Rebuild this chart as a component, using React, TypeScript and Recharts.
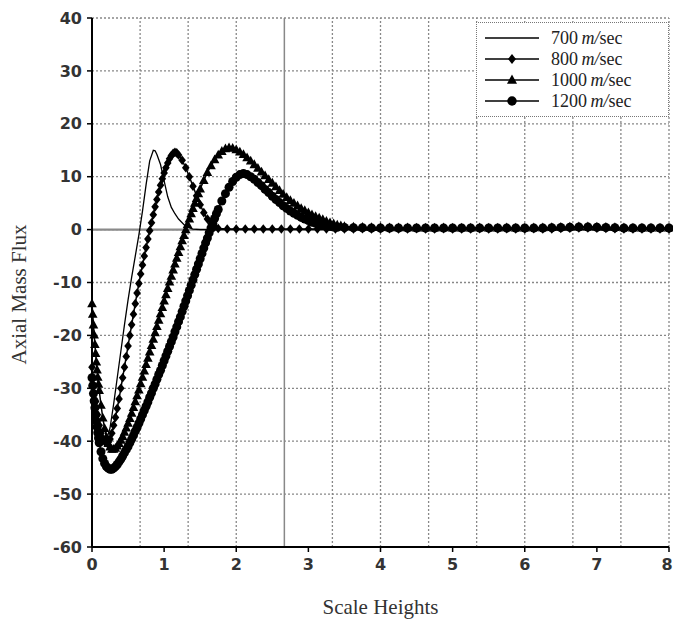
import React from 'react';
import { LineChart, Line, XAxis, YAxis, CartesianGrid, ReferenceLine, Legend } from 'recharts';

const xTicks = [0, 1, 2, 3, 4, 5, 6, 7, 8];
const yTicks = [-60, -50, -40, -30, -20, -10, 0, 10, 20, 30, 40];
const gridX = [0.667, 1.333, 2, 3.333, 4, 4.667, 5.333, 6, 6.667, 7.333, 8];
const solidGridX = 2.667;
const speedLabels = ['700', '800', '1000', '1200'];

const s700: [number, number][] = [
  [0, -27], [0.05, -32], [0.1, -36.5], [0.15, -39.3], [0.2, -39.8], [0.25, -37.5], [0.3, -33], [0.35, -28],
  [0.4, -23], [0.45, -18], [0.5, -13.3], [0.55, -9], [0.6, -5], [0.65, -1], [0.7, 3.5], [0.75, 8.5], [0.8, 13],
  [0.85, 15], [0.875, 14.9], [0.9, 14.2], [0.95, 12.3], [1.0, 9.2], [1.05, 6.2], [1.1, 4.2], [1.15, 3], [1.2, 2],
  [1.3, 0.6], [1.4, 0.1], [1.5, 0], [8, 0],
];

const s800: [number, number][] = [
  [0, -26], [0.025, -29.5], [0.05, -32.5], [0.075, -35], [0.1, -37], [0.125, -38.5], [0.15, -39.5], [0.175, -40.1],
  [0.2, -40.3], [0.225, -40.2], [0.25, -39.6], [0.275, -38.5], [0.3, -37], [0.325, -35.5], [0.35, -33.8], [0.375, -32],
  [0.4, -30], [0.425, -28], [0.45, -26], [0.475, -24], [0.5, -22], [0.525, -20], [0.55, -18], [0.575, -16],
  [0.6, -14], [0.625, -12], [0.65, -10.2], [0.675, -8.4], [0.7, -6.7], [0.725, -5], [0.75, -3.4], [0.775, -1.8],
  [0.8, -0.2], [0.825, 1.3], [0.85, 2.8], [0.875, 4.3], [0.9, 5.7], [0.925, 7.1], [0.95, 8.4], [0.975, 9.6],
  [1.0, 10.7], [1.025, 11.7], [1.05, 12.6], [1.075, 13.4], [1.1, 14], [1.125, 14.4], [1.15, 14.6], [1.175, 14.5],
  [1.2, 14.1], [1.25, 13.1], [1.3, 11.7], [1.35, 10], [1.4, 8.2], [1.45, 6.4], [1.5, 4.7], [1.55, 3.2],
  [1.6, 2], [1.65, 1.1], [1.7, 0.5], [1.75, 0.2],
  [1.875, 0.1], [2, 0.1], [2.125, 0.1], [2.25, 0.1], [2.375, 0.1], [2.5, 0.1], [2.625, 0.1], [2.75, 0.1],
  [2.875, 0.1], [3, 0.1], [3.125, 0.1], [3.25, 0.1], [3.375, 0.1], [3.5, 0.1],
];

const s1000: [number, number][] = [
  [0, -14], [0.01, -16], [0.02, -18], [0.03, -19.9], [0.04, -21.7], [0.05, -23.4], [0.06, -25], [0.07, -26.5],
  [0.08, -27.9], [0.09, -29.2], [0.1, -30.4], [0.125, -33.2], [0.15, -35.6], [0.175, -37.6], [0.2, -39.2],
  [0.225, -40.4], [0.25, -41.1], [0.275, -41.5], [0.3, -41.5], [0.325, -41.3], [0.35, -40.9], [0.375, -40.4],
  [0.4, -39.8], [0.425, -39.1], [0.45, -38.3], [0.475, -37.5], [0.5, -36.6], [0.525, -35.7], [0.55, -34.7],
  [0.575, -33.6], [0.6, -32.5], [0.625, -31.4], [0.65, -30.3], [0.675, -29.1], [0.7, -27.9], [0.725, -26.7],
  [0.75, -25.5], [0.775, -24.3], [0.8, -23.1], [0.825, -21.9], [0.85, -20.7], [0.875, -19.5], [0.9, -18.3],
  [0.925, -17.1], [0.95, -15.9], [0.975, -14.7], [1.0, -13.5], [1.025, -12.3], [1.05, -11.1], [1.075, -9.9],
  [1.1, -8.8], [1.125, -7.6], [1.15, -6.5], [1.175, -5.4], [1.2, -4.3], [1.225, -3.2], [1.25, -2.1], [1.275, -1.1],
  [1.3, 0], [1.325, 1], [1.35, 2], [1.375, 3], [1.4, 4], [1.425, 5], [1.45, 5.9], [1.475, 6.8], [1.5, 7.7],
  [1.55, 9.3], [1.6, 10.8], [1.65, 12.1], [1.7, 13.2], [1.75, 14.1], [1.8, 14.8], [1.85, 15.3], [1.9, 15.5],
  [1.95, 15.4], [2.0, 15.1], [2.05, 14.7], [2.1, 14.2], [2.15, 13.6], [2.2, 13], [2.25, 12.3], [2.3, 11.6],
  [2.35, 10.9], [2.4, 10.2], [2.45, 9.5], [2.5, 8.8], [2.55, 8.1], [2.6, 7.4], [2.65, 6.7], [2.7, 6.1],
  [2.75, 5.5], [2.8, 5], [2.85, 4.5], [2.9, 4], [2.95, 3.6], [3.0, 3.2], [3.05, 2.8], [3.1, 2.5], [3.15, 2.2],
  [3.2, 1.9], [3.25, 1.6], [3.3, 1.3], [3.35, 1.1], [3.4, 0.9], [3.45, 0.75], [3.5, 0.6],
];

const s1200: [number, number][] = [
  [0, -28], [0.01, -29.5], [0.02, -31], [0.03, -32.4], [0.04, -33.7], [0.05, -35], [0.06, -36.2], [0.07, -37.3],
  [0.08, -38.4], [0.09, -39.4], [0.1, -40.3], [0.125, -42], [0.15, -43.3], [0.175, -44.2], [0.2, -44.8],
  [0.225, -45.1], [0.25, -45.3], [0.275, -45.3], [0.3, -45.1], [0.325, -44.8], [0.35, -44.4], [0.375, -43.9],
  [0.4, -43.4], [0.425, -42.8], [0.45, -42.2], [0.475, -41.6], [0.5, -41], [0.525, -40.3], [0.55, -39.6],
  [0.575, -38.9], [0.6, -38.1], [0.625, -37.4], [0.65, -36.6], [0.675, -35.8], [0.7, -35], [0.725, -34.2],
  [0.75, -33.4], [0.775, -32.6], [0.8, -31.7], [0.825, -30.9], [0.85, -30], [0.875, -29.2], [0.9, -28.3],
  [0.925, -27.4], [0.95, -26.6], [0.975, -25.7], [1.0, -24.8], [1.025, -23.9], [1.05, -23], [1.075, -22.1],
  [1.1, -21.2], [1.125, -20.3], [1.15, -19.3], [1.175, -18.4], [1.2, -17.4], [1.225, -16.5], [1.25, -15.5],
  [1.275, -14.5], [1.3, -13.5], [1.325, -12.5], [1.35, -11.5], [1.375, -10.5], [1.4, -9.5], [1.425, -8.5],
  [1.45, -7.5], [1.475, -6.5], [1.5, -5.5], [1.525, -4.5], [1.55, -3.5], [1.575, -2.5], [1.6, -1.6], [1.625, -0.6],
  [1.65, 0.3], [1.675, 1.2], [1.7, 2.1], [1.725, 3], [1.75, 3.8], [1.8, 5.4], [1.85, 6.8], [1.9, 8], [1.95, 9.1],
  [2.0, 9.9], [2.05, 10.4], [2.1, 10.6], [2.15, 10.4], [2.2, 10], [2.25, 9.5], [2.3, 8.9], [2.35, 8.3], [2.4, 7.6],
  [2.45, 7], [2.5, 6.3], [2.55, 5.7], [2.6, 5.1], [2.65, 4.5], [2.7, 4], [2.75, 3.5], [2.8, 3.1], [2.85, 2.7],
  [2.9, 2.3], [2.95, 2], [3.0, 1.7], [3.05, 1.4], [3.1, 1.2], [3.15, 1], [3.2, 0.85], [3.25, 0.7], [3.3, 0.6],
  [3.35, 0.5], [3.4, 0.45], [3.5, 0.4],
];

const tailX = [3.625, 3.75, 3.875, 4, 4.125, 4.25, 4.375, 4.5, 4.625, 4.75, 4.875, 5, 5.125, 5.25, 5.375, 5.5,
  5.625, 5.75, 5.875, 6, 6.125, 6.25, 6.375, 6.5, 6.625, 6.75, 6.875, 7, 7.125, 7.25, 7.375, 7.5, 7.625, 7.75, 7.875, 8];
const tail800 = [0.1, 0.15, 0.1, 0.1, 0.15, 0.1, 0.1, 0.15, 0.1, 0.1, 0.15, 0.1, 0.1, 0.1, 0.15, 0.1, 0.1, 0.15,
  0.1, 0.1, 0.15, 0.1, 0.1, 0.2, 0.25, 0.3, 0.3, 0.25, 0.2, 0.15, 0.1, 0.1, 0.1, 0.1, 0.1, 0.1];
const tail1000 = [0.5, 0.45, 0.4, 0.4, 0.35, 0.35, 0.35, 0.3, 0.3, 0.3, 0.35, 0.3, 0.3, 0.3, 0.35, 0.3, 0.3, 0.35,
  0.3, 0.3, 0.35, 0.35, 0.4, 0.45, 0.5, 0.55, 0.55, 0.5, 0.45, 0.4, 0.35, 0.3, 0.3, 0.3, 0.3, 0.3];
const tail1200 = [0.35, 0.35, 0.3, 0.3, 0.3, 0.3, 0.3, 0.3, 0.3, 0.3, 0.3, 0.3, 0.3, 0.3, 0.3, 0.3, 0.3, 0.3,
  0.3, 0.3, 0.3, 0.3, 0.35, 0.4, 0.45, 0.5, 0.5, 0.45, 0.4, 0.35, 0.3, 0.3, 0.3, 0.3, 0.3, 0.3];

const toRows = (pairs: [number, number][], tail?: number[]) => {
  const rows = pairs.map(([x, y]) => ({ x, y }));
  if (tail) tailX.forEach((x, i) => rows.push({ x, y: tail[i] }));
  return rows;
};

const data700 = toRows(s700);
const data800 = toRows(s800, tail800);
const data1000 = toRows(s1000, tail1000);
const data1200 = toRows(s1200, tail1200);

type Shape = 'none' | 'diamond' | 'triangle' | 'circle';

const Marker = ({ cx, cy, shape, s = 1 }: { cx: number; cy: number; shape: Shape; s?: number }) => {
  if (shape === 'diamond')
    return <path d={`M${cx},${cy - 4.8 * s}L${cx + 3.8 * s},${cy}L${cx},${cy + 4.8 * s}L${cx - 3.8 * s},${cy}Z`} fill="#000" />;
  if (shape === 'triangle')
    return <path d={`M${cx},${cy - 5.2 * s}L${cx + 4.8 * s},${cy + 3.6 * s}L${cx - 4.8 * s},${cy + 3.6 * s}Z`} fill="#000" />;
  if (shape === 'circle') return <circle cx={cx} cy={cy} r={4.5 * s} fill="#000" />;
  return null;
};

const makeDot = (shape: Shape) => (p: any) => {
  if (p.cx == null || p.cy == null) return <g key={`k${p.index}`} />;
  return (
    <g key={`k${p.index}`}>
      <Marker cx={p.cx} cy={p.cy} shape={shape} />
    </g>
  );
};

const legendShapes: Shape[] = ['none', 'diamond', 'triangle', 'circle'];

const LegendBox = () => (
  <div
    style={{
      position: 'relative',
      width: 193,
      height: 95,
      background: '#fff',
      border: '1.5px dotted #777',
      boxSizing: 'border-box',
      fontFamily: '"Liberation Serif", serif',
      fontSize: 18,
      color: '#222',
    }}
  >
    {speedLabels.map((lab, i) => (
      <div key={lab} style={{ position: 'absolute', left: 0, top: 4 + i * 21, height: 22, width: 190 }}>
        <svg width={60} height={22} style={{ position: 'absolute', left: 6, top: 0 }}>
          <line x1={2} y1={11} x2={56} y2={11} stroke="#000" strokeWidth={1.6} />
          <Marker cx={29} cy={11} shape={legendShapes[i]} s={1.05} />
        </svg>
        <span style={{ position: 'absolute', left: 74, top: 0, lineHeight: '22px', whiteSpace: 'nowrap' }}>
          {lab}
          {'\u2009'}
          <span style={{ fontStyle: 'italic' }}>m/</span>
          sec
        </span>
      </div>
    ))}
  </div>
);

const tickStyle = { fontFamily: '"DejaVu Sans", sans-serif', fontSize: 16, fontWeight: 700, fill: '#333' };

const XTick = (props: any) => {
  const { x, y, payload } = props;
  const last = payload.value === xTicks[xTicks.length - 1];
  return (
    <text
      x={last ? x - 2 : x}
      y={y}
      dy="0.71em"
      textAnchor="middle"
      style={tickStyle}
    >
      {payload.value}
    </text>
  );
};

const yTitle = (props: any) => {
  const vb = props.viewBox || { x: 0, y: 18, width: 92, height: 529 };
  const x = vb.x + 19;
  const y = vb.y + vb.height / 2 + 12;
  return (
    <text
      x={x}
      y={y}
      transform={`rotate(-90, ${x}, ${y})`}
      textAnchor="middle"
      dominantBaseline="central"
      style={{ fontFamily: '"Liberation Serif", serif', fontSize: 21, fill: '#333' }}
    >
      Axial Mass Flux
    </text>
  );
};

const xTitle = (props: any) => {
  const vb = props.viewBox || { x: 92, y: 547, width: 577, height: 77 };
  return (
    <text
      x={vb.x + vb.width / 2}
      y={vb.y + 67}
      textAnchor="middle"
      style={{ fontFamily: '"Liberation Serif", serif', fontSize: 21, fill: '#333' }}
    >
      Scale Heights
    </text>
  );
};

export default function App() {
  return (
    <div style={{ position: 'absolute', left: 0, top: 0, width: 673, height: 624, background: '#fff' }}>
      <LineChart width={673} height={624} margin={{ top: 18, right: 4, bottom: 0, left: 0 }}>
        <CartesianGrid vertical={false} stroke="#888" strokeDasharray="2 2" strokeWidth={1.3} />
        {gridX.map((v) => (
          <ReferenceLine key={`gx${v}`} x={v} stroke="#888" strokeDasharray="2 2" strokeWidth={1.3} />
        ))}
        <ReferenceLine x={solidGridX} stroke="#888" strokeWidth={1.5} />
        <ReferenceLine y={0} stroke="#8a8a8a" strokeWidth={2.2} />
        <XAxis
          type="number"
          dataKey="x"
          domain={[0, 8]}
          ticks={xTicks}
          allowDuplicatedCategory={false}
          height={77}
          tick={<XTick />}
          tickSize={5}
          tickMargin={7}
          stroke="#000"
          axisLine={{ stroke: '#000', strokeWidth: 2 }}
          tickLine={{ stroke: '#000', strokeWidth: 1.5 }}
          label={xTitle}
        />
        <YAxis
          type="number"
          domain={[-60, 40]}
          ticks={yTicks}
          width={92}
          tick={tickStyle}
          tickSize={5}
          tickMargin={5}
          axisLine={{ stroke: '#000', strokeWidth: 2 }}
          tickLine={{ stroke: '#000', strokeWidth: 1.5 }}
          label={yTitle}
        />
        <Legend
          content={() => <LegendBox />}
          layout="horizontal"
          verticalAlign="middle"
          align="center"
          wrapperStyle={{ position: 'absolute', left: 476, top: 22, width: 193, height: 95 }}
        />
        <Line data={data700} dataKey="y" name="700" stroke="#000" strokeWidth={1.3} dot={false} activeDot={false} isAnimationActive={false} />
        <Line data={data800} dataKey="y" name="800" stroke="#000" strokeWidth={1.5} dot={makeDot('diamond')} activeDot={false} isAnimationActive={false} />
        <Line data={data1000} dataKey="y" name="1000" stroke="#000" strokeWidth={1.5} dot={makeDot('triangle')} activeDot={false} isAnimationActive={false} />
        <Line data={data1200} dataKey="y" name="1200" stroke="#000" strokeWidth={1.5} dot={makeDot('circle')} activeDot={false} isAnimationActive={false} />
      </LineChart>
    </div>
  );
}
